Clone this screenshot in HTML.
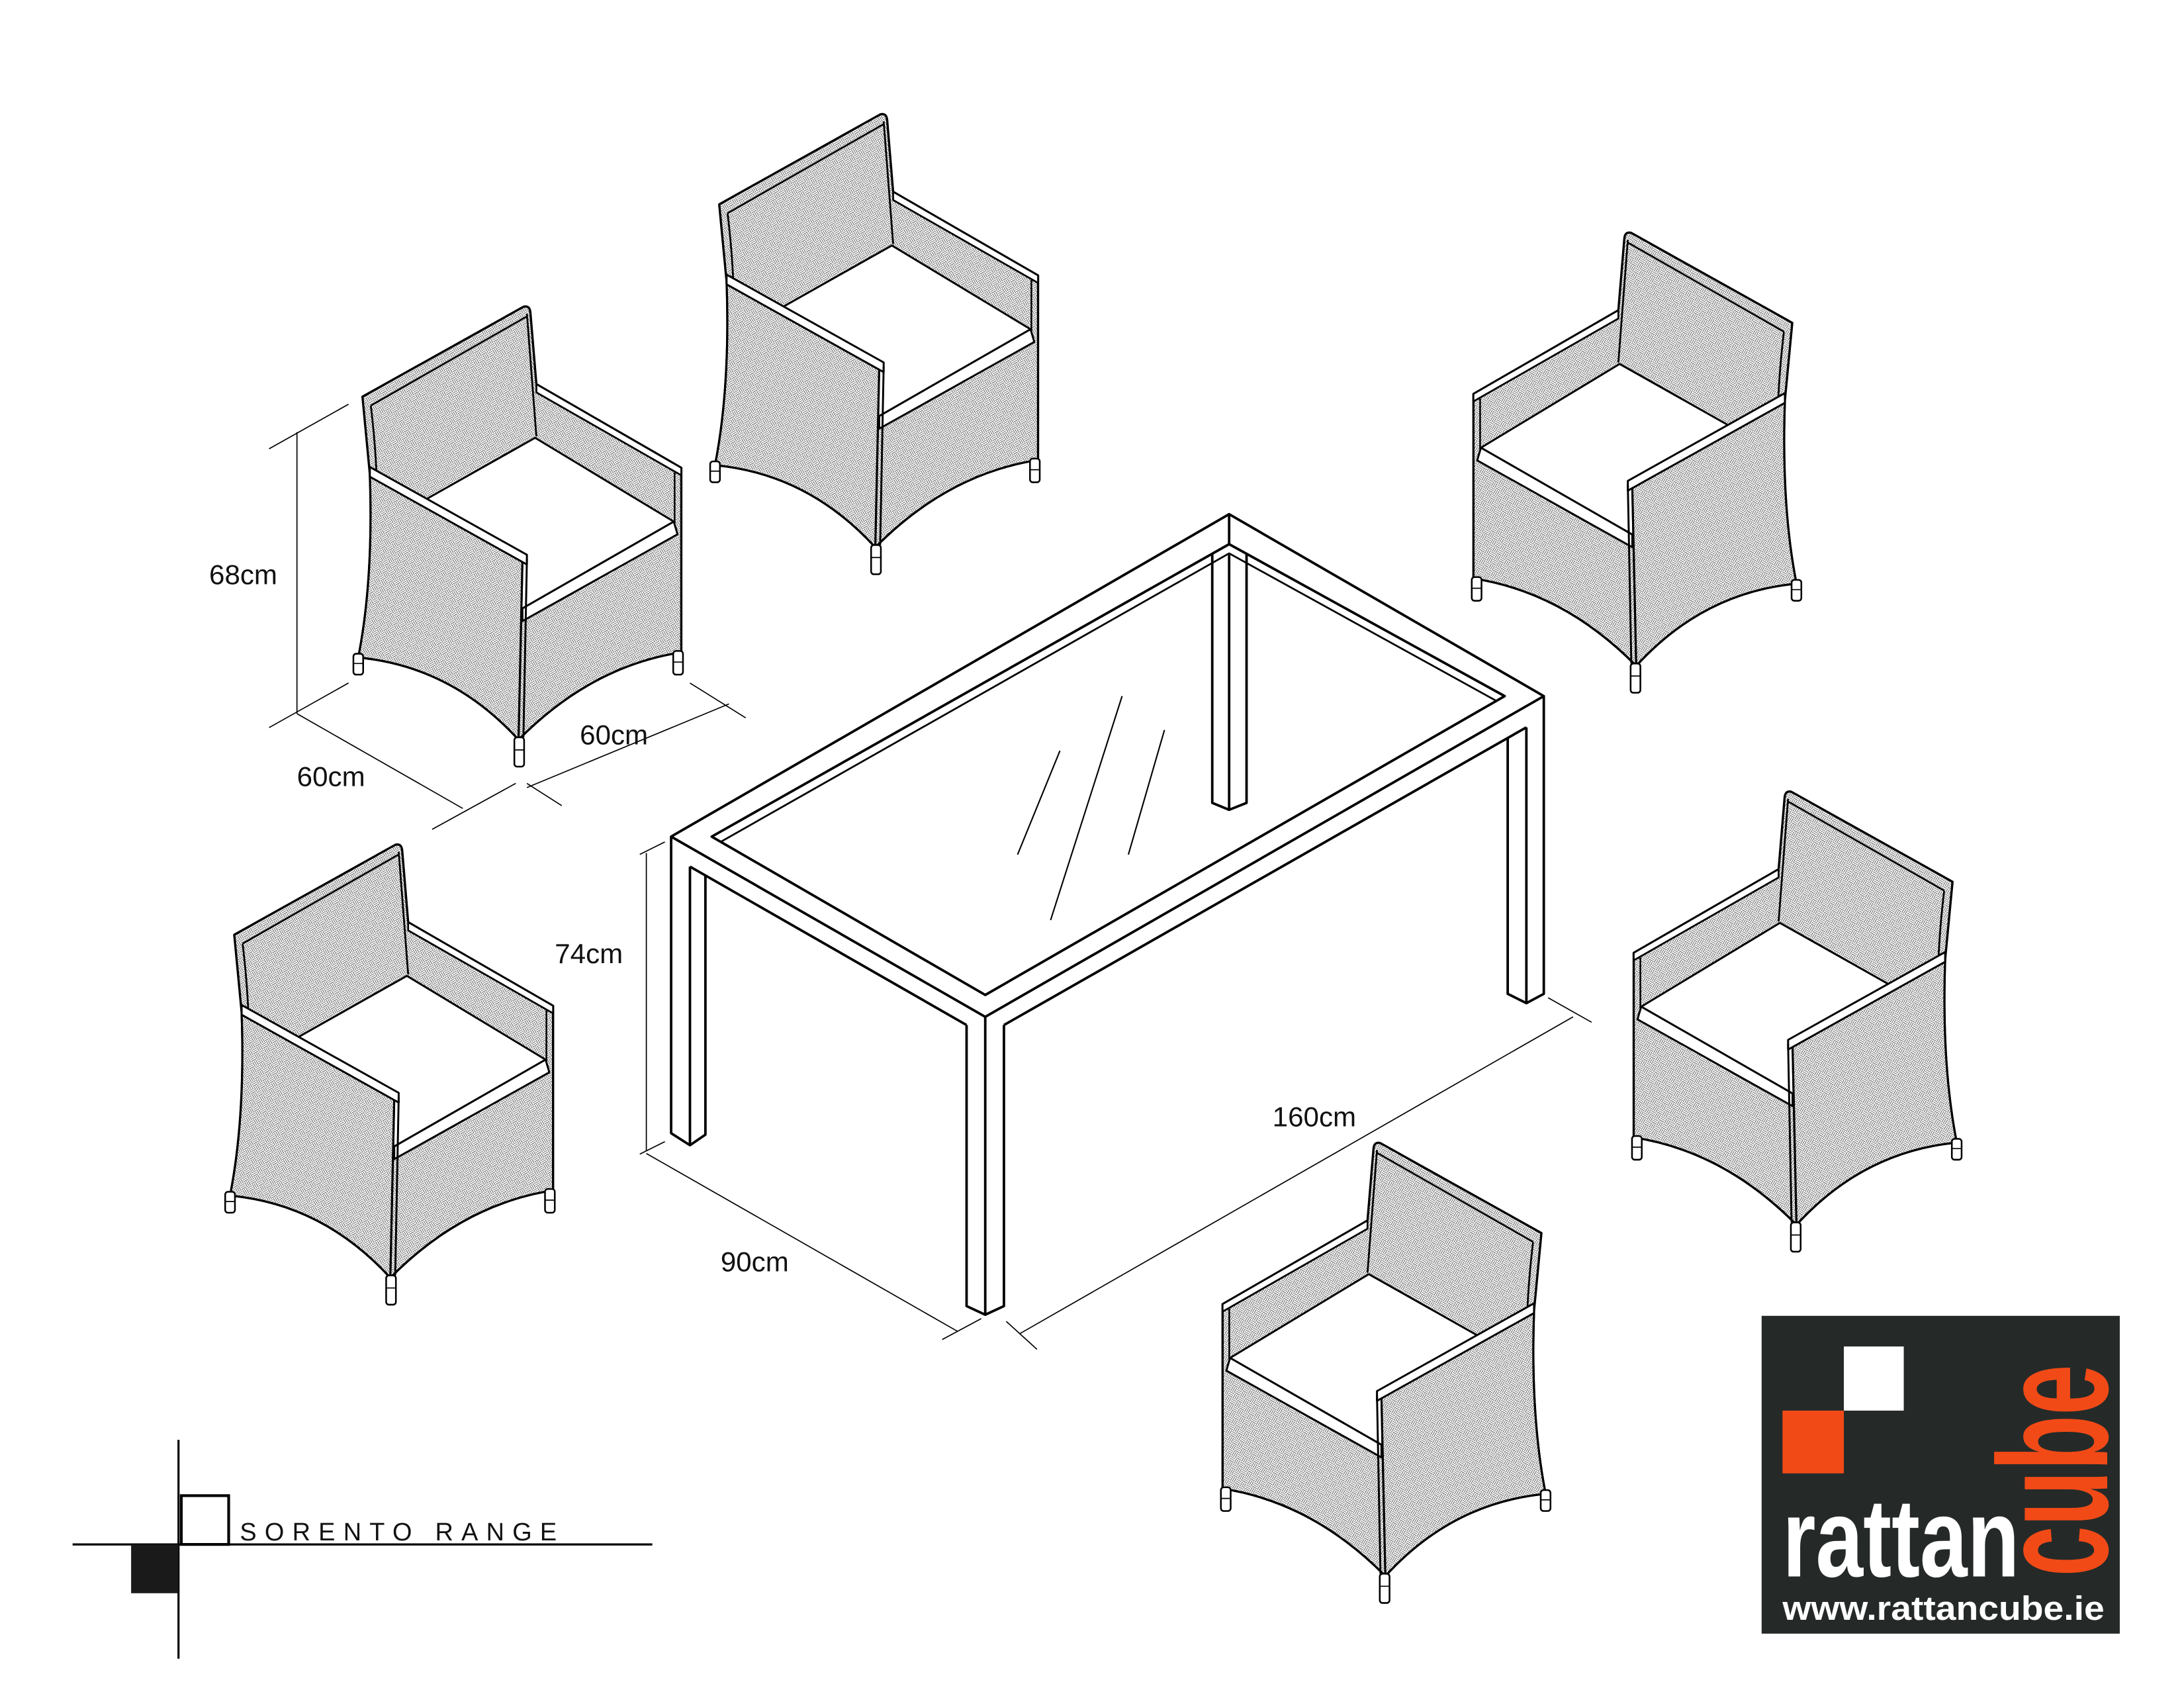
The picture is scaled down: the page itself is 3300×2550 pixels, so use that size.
<!DOCTYPE html>
<html><head><meta charset="utf-8"><style>
html,body{margin:0;padding:0;background:#fff;}
svg{display:block;}
</style></head><body>
<svg xmlns="http://www.w3.org/2000/svg" width="3300" height="2550" viewBox="0 0 1567 1211">
<defs>
<pattern id="wk" width="8" height="8" patternUnits="userSpaceOnUse" patternTransform="rotate(-30)">
<rect width="8" height="8" fill="#fff"/>
<g stroke="#444" stroke-width="0.4">
<path d="M0,0.7H4M0,2H4M0,3.3H4M4,4.7H8M4,6H8M4,7.3H8"/>
<path d="M4.7,0V4M6,0V4M7.3,0V4M0.7,4V8M2,4V8M3.3,4V8"/>
</g>
</pattern>
<g id="chair" stroke="#000" stroke-linejoin="round">
<path fill="url(#wk)" stroke-width="1.6" d="M6,68.6 L121.7,4 Q126,3 126.5,8 L130.8,59.6 L234.8,119.6 L234.8,252 Q170,262 118,314.7 Q70,262 3,255.7 Q14,200 11.3,124.2 Q9,100 6,68.6 Z"/>
<path fill="none" stroke-width="1.3" d="M12,75 L124,11 M12,75 Q15,100 16,122 M124,9 L130.8,97"/>
<path fill="#fff" stroke-width="1.3" d="M130.8,59.6 L234.8,119.6 L234.8,125 L130.8,65.5 Z"/>
<path fill="none" stroke-width="1.2" d="M230,123 L230,165"/>
<path fill="#fff" stroke-width="1.4" d="M49.3,143.5 L129.9,98.1 L229.4,158.2 L120.8,220.5 Z"/>
<path fill="#fff" stroke-width="1.4" d="M120.8,220.5 L229.4,158.2 L232.1,167.3 L120.8,229.6 Z"/>
<path fill="url(#wk)" stroke-width="1.5" d="M11.3,124.2 L120.8,185.4 L118,314.7 Q70,262 3,255.7 Q14,200 11.3,124.2 Z"/>
<path fill="#fff" stroke-width="1.4" d="M11.3,119 L124,182 L124,189 L11.3,126 Z"/>
<path fill="none" stroke-width="1.4" d="M124,185 L121.5,313 M120.8,189 L118,314.7"/>
<g fill="#fff" stroke-width="1.2">
<rect x="-0.5" y="253" width="7" height="15" rx="2"/>
<rect x="229" y="251" width="7" height="17" rx="2"/>
<rect x="115" y="313" width="7" height="21" rx="2"/>
</g>
<path fill="none" stroke-width="0.8" d="M-0.5,260H6.5M229,259H236M115,322H122"/>
</g>
</defs>

<use href="#chair" transform="translate(254,216)"/>
<use href="#chair" transform="translate(510,78)"/>
<use href="#chair" transform="translate(162,602)"/>
<use href="#chair" transform="translate(1292,163) scale(-1,1)"/>
<use href="#chair" transform="translate(1407,564) scale(-1,1)"/>
<use href="#chair" transform="translate(1112,816) scale(-1,1)"/>

<g fill="none" stroke="#000" stroke-width="1.8" stroke-linejoin="round">
<path fill="#fff" d="M481.5,600.2 L881.9,368.9 L1107.7,499.4 L706.9,729.5 Z"/>
<path d="M510.6,600.2 L881.9,390.4 L1079.6,499.4 L706.9,713.8 Z"/>
<path stroke-width="1.3" d="M517,604 L881.9,397 L1074,503"/>
<path d="M881.9,368.9 V390.4"/>
<path d="M481.5,600.2 V813 L495,821.6 L506.1,814 V628 M495,621.7 V821.6 M495,621.7 L693.5,735.4"/>
<path d="M693.5,735.4 V937 L706.9,943.2 L720.3,937 V735.4 M706.9,729.5 V943.2"/>
<path d="M720.3,735.4 L1095.2,521.8"/>
<path d="M1081.8,529.5 V713 L1095.2,719.7 L1107.7,713 V499.4 M1095.2,521.8 V719.7"/>
<path d="M869.8,397 V576 L881.9,581 L894.4,576 V397 M881.9,398 V581"/>
<path stroke-width="1" d="M760.5,538.6 L730.1,613.1 M805.1,499.4 L753.8,660.1 M835.5,523.7 L809.6,613.1"/>
</g>

<g fill="none" stroke="#000" stroke-width="0.8">
<path d="M463.7,612 V826 M459,613 L477,604 M459,828 L477,819"/>
<path d="M463.7,827.5 L686.8,955 M676,961 L704,946"/>
<path d="M731.5,956.9 L1128.7,729.5 M1110.8,715.8 L1142,733.4 M722,948 L744,968"/>
<path d="M213,310 V512 M193,322 L250,290 M193,522 L250,490"/>
<path d="M213,512 L332,580 M310,595 L370,562"/>
<path d="M378,565 L523,505 M495,490 L535,515 M403,578 L378,562"/>
</g>
<g font-family="'Liberation Sans',sans-serif" font-size="20" fill="#111">
<text x="150" y="419">68cm</text>
<text x="213" y="564">60cm</text>
<text x="416" y="534">60cm</text>
<text x="398" y="691">74cm</text>
<text x="517" y="912">90cm</text>
<text x="913" y="808">160cm</text>
</g>

<g stroke="#000" stroke-width="1.5" fill="none">
<path d="M128,1033 V1190 M52,1108 H468"/>
<rect x="130" y="1073" width="34" height="35" stroke-width="2"/>
</g>
<rect x="94" y="1108" width="34" height="35" fill="#1a1a1a"/>
<text x="172" y="1105" font-family="'Liberation Sans',sans-serif" font-size="18" letter-spacing="4.6" fill="#111" textLength="232" lengthAdjust="spacing">SORENTO RANGE</text>

<rect x="1264" y="944" width="257" height="228" fill="#252a28"/>
<rect x="1323" y="966" width="43" height="46" fill="#fff"/>
<rect x="1279" y="1012" width="44" height="45" fill="#f24a17"/>
<text x="1279" y="1131" font-family="'Liberation Sans',sans-serif" font-weight="bold" font-size="80" fill="#fff" textLength="170" lengthAdjust="spacingAndGlyphs">rattan</text>
<text transform="translate(1512,1131) rotate(-90)" font-family="'Liberation Sans',sans-serif" font-weight="bold" font-size="112" fill="#f24a17" textLength="152" lengthAdjust="spacingAndGlyphs">cube</text>
<text x="1279" y="1162" font-family="'Liberation Sans',sans-serif" font-weight="bold" font-size="24" fill="#fff" textLength="231" lengthAdjust="spacingAndGlyphs">www.rattancube.ie</text>
</svg>
</body></html>
